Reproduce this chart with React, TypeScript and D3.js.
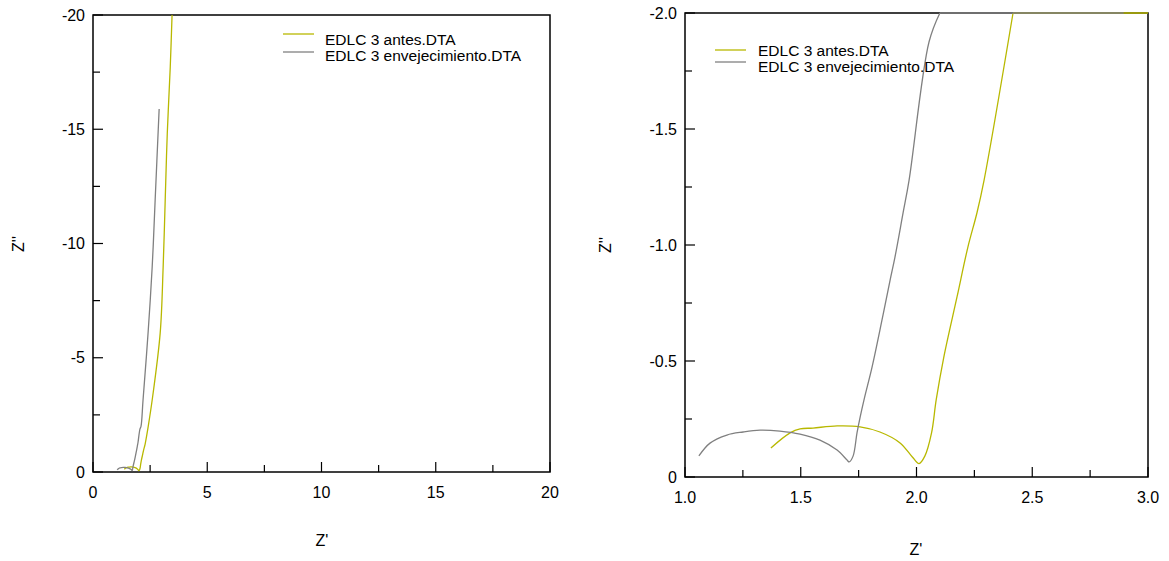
import React from "react";
import * as d3 from "d3";

// Series: EDLC 3 antes.DTA (yellow)
const antesZr = [1.371, 1.454, 1.497, 1.553, 1.657, 1.756, 1.842, 1.929, 1.983, 2.011, 2.036, 2.065, 2.085, 2.118, 2.175, 2.222, 2.261, 2.292, 2.417, 2.59, 2.94, 3.07, 3.16, 3.25, 3.38, 3.46];
const antesZi = [-0.125, -0.19, -0.207, -0.211, -0.22, -0.216, -0.194, -0.147, -0.085, -0.058, -0.09, -0.19, -0.332, -0.517, -0.776, -0.991, -1.138, -1.28, -2.0, -3.15, -6.08, -8.97, -11.9, -14.8, -17.7, -20.0];

// Series: EDLC 3 envejecimiento.DTA (gray)
const envZr = [1.06, 1.108, 1.181, 1.251, 1.324, 1.41, 1.497, 1.583, 1.657, 1.7, 1.709, 1.726, 1.743, 1.757, 1.775, 1.808, 1.851, 1.886, 1.907, 1.942, 1.968, 2.054, 2.101, 2.19, 2.41, 2.59, 2.72, 2.895];
const envZi = [-0.091, -0.146, -0.181, -0.194, -0.202, -0.198, -0.185, -0.159, -0.116, -0.073, -0.065, -0.09, -0.19, -0.26, -0.34, -0.474, -0.677, -0.849, -0.948, -1.138, -1.28, -1.875, -2.0, -3.15, -6.08, -8.97, -11.9, -15.89];

const seriesNames = ["EDLC 3 antes.DTA", "EDLC 3 envejecimiento.DTA"];
const seriesColors = ["#b8b800", "#808080"];

const leftXTicks = [0, 5, 10, 15, 20];
const leftYTicks = [0, -5, -10, -15, -20];
const rightXTicks = [1.0, 1.5, 2.0, 2.5, 3.0];
const rightYTicks = [0, -0.5, -1.0, -1.5, -2.0];

const FONT = "'Liberation Sans', Arial, sans-serif";

type PanelProps = {
  x0: number; x1: number; y0: number; y1: number;
  xDomain: [number, number]; yDomain: [number, number];
  xTicks: number[]; yTicks: number[];
  xFmt: (v: number) => string; yFmt: (v: number) => string;
  xLabelY: number; xTitle: [number, number]; yTitle: [number, number];
  legend: { lineX: number; textX: number; lineY: number[]; textY: number[] };
  id: string;
};

function Panel(p: PanelProps) {
  const x = d3.scaleLinear().domain(p.xDomain).range([p.x0, p.x1]).clamp(true);
  const y = d3.scaleLinear().domain(p.yDomain).range([p.y1, p.y0]).clamp(true);
  const smooth = d3
    .line<[number, number]>()
    .x((d) => x(d[0]))
    .y((d) => y(d[1]))
    .curve(d3.curveCatmullRom.alpha(0.5));
  const straight = d3.line<[number, number]>().x((d) => x(d[0])).y((d) => y(d[1]));
  const yLo = Math.min(...p.yDomain), yHi = Math.max(...p.yDomain);
  const xLo = Math.min(...p.xDomain), xHi = Math.max(...p.xDomain);
  const inRange = (d: [number, number]) =>
    d[0] >= xLo - 1e-9 && d[0] <= xHi + 1e-9 && d[1] >= yLo - 1e-9 && d[1] <= yHi + 1e-9;
  const series = [
    d3.zip(antesZr, antesZi) as [number, number][],
    d3.zip(envZr, envZi) as [number, number][],
  ];
  const paths = series.map((s) => {
    let last = s.length - 1;
    for (let k = 0; k < s.length; k++) {
      if (!inRange(s[k])) { last = k - 1; break; }
    }
    const inner = s.slice(0, last + 1);
    const outer = s.slice(Math.max(last, 0));
    return { inner: smooth(inner) || "", outer: outer.length > 1 ? straight(outer) || "" : "" };
  });
  const xMinor = p.xTicks.slice(0, -1).map((v, i) => (v + p.xTicks[i + 1]) / 2);
  const yMinor = p.yTicks.slice(0, -1).map((v, i) => (v + p.yTicks[i + 1]) / 2);
  return (
    <g>
      <rect x={p.x0} y={p.y0} width={p.x1 - p.x0} height={p.y1 - p.y0} fill="none" stroke="#000" strokeWidth={1.5} />
      {p.xTicks.map((v) => (
        <g key={"xt" + v}>
          <line x1={x(v)} x2={x(v)} y1={p.y1} y2={p.y1 - 10} stroke="#000" strokeWidth={1.2} />
          <text x={x(v)} y={p.xLabelY} textAnchor="middle" fontSize={16} fontFamily={FONT}>{p.xFmt(v)}</text>
        </g>
      ))}
      {xMinor.map((v) => (
        <line key={"xm" + v} x1={x(v)} x2={x(v)} y1={p.y1} y2={p.y1 - 7} stroke="#000" strokeWidth={1.2} />
      ))}
      {p.yTicks.map((v) => (
        <g key={"yt" + v}>
          <line x1={p.x0} x2={p.x0 + 10} y1={y(v)} y2={y(v)} stroke="#000" strokeWidth={1.2} />
          <text x={p.x0 - 8} y={y(v)} dy="0.35em" textAnchor="end" fontSize={16} fontFamily={FONT}>{p.yFmt(v)}</text>
        </g>
      ))}
      {yMinor.map((v) => (
        <line key={"ym" + v} x1={p.x0} x2={p.x0 + 7} y1={y(v)} y2={y(v)} stroke="#000" strokeWidth={1.2} />
      ))}
      {paths.map((pp, i) => (
        <g key={i}>
          <path d={pp.inner} fill="none" stroke={seriesColors[i]} strokeWidth={1.3} />
          {pp.outer && <path d={pp.outer} fill="none" stroke={seriesColors[i]} strokeWidth={1.3} />}
        </g>
      ))}
      <text x={p.xTitle[0]} y={p.xTitle[1]} dy="0.35em" textAnchor="middle" fontSize={16} fontFamily={FONT}>Z'</text>
      <text transform={`translate(${p.yTitle[0]},${p.yTitle[1]}) rotate(-90)`} dy="0.35em" textAnchor="middle" fontSize={16} fontFamily={FONT}>Z''</text>
      {seriesNames.map((n, i) => (
        <g key={n}>
          <line x1={p.legend.lineX} x2={p.legend.lineX + 31} y1={p.legend.lineY[i]} y2={p.legend.lineY[i]} stroke={seriesColors[i]} strokeWidth={1.3} />
          <text x={p.legend.textX} y={p.legend.textY[i]} fontSize={15.5} fontFamily={FONT}>{n}</text>
        </g>
      ))}
    </g>
  );
}

export default function App() {
  return (
    <svg width={1169} height={561} style={{ position: "absolute", left: 0, top: 0, background: "#fff" }}>
      <rect width={1169} height={561} fill="#fff" />
      <Panel
        id="L"
        x0={93} x1={550} y0={15} y1={472}
        xDomain={[0, 20]} yDomain={[0, -20]}
        xTicks={leftXTicks} yTicks={leftYTicks}
        xFmt={(v) => String(v)} yFmt={(v) => String(v)}
        xLabelY={498} xTitle={[322, 540]} yTitle={[18, 244]}
        legend={{ lineX: 283, textX: 325, lineY: [34, 52], textY: [45, 61] }}
      />
      <Panel
        id="R"
        x0={685} x1={1148} y0={13} y1={477}
        xDomain={[1, 3]} yDomain={[0, -2]}
        xTicks={rightXTicks} yTicks={rightYTicks}
        xFmt={(v) => v.toFixed(1)} yFmt={(v) => (v === 0 ? "0" : v.toFixed(1))}
        xLabelY={503} xTitle={[916, 549]} yTitle={[605, 245]}
        legend={{ lineX: 715, textX: 758, lineY: [50, 62], textY: [56, 72] }}
      />
    </svg>
  );
}
